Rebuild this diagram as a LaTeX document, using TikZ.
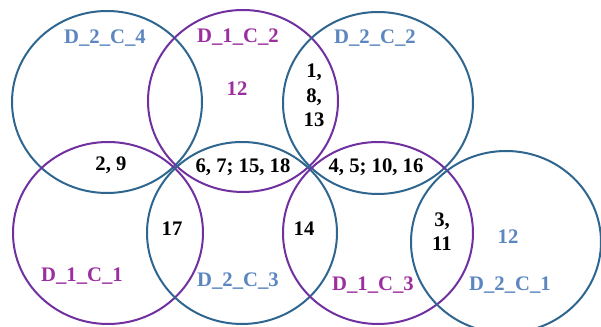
\documentclass[tikz,border=0pt]{standalone}
\usepackage{fontspec}
\setmainfont{Liberation Serif}
\definecolor{cblue}{HTML}{2F6690}
\definecolor{cpurple}{HTML}{7030A0}
\definecolor{lblue}{HTML}{5B86C0}
\definecolor{lpurple}{HTML}{9B2FA0}
\begin{document}
\begin{tikzpicture}[x=0.75pt,y=-0.75pt,
  bluecirc/.style={draw=cblue,line width=1.5pt},
  purpcirc/.style={draw=cpurple,line width=1.5pt},
  lab/.style={font=\fontsize{15.5}{17}\selectfont\bfseries,inner sep=0pt},
  bluelab/.style={lab,text=lblue},
  purplab/.style={lab,text=lpurple},
  num/.style={lab,text=black,align=center}]
\useasboundingbox (0,0) rectangle (601,327);
% circles
\draw[bluecirc] (107,102) ellipse [x radius=95, y radius=91];
\draw[purpcirc] (243,101) ellipse [x radius=95, y radius=91];
\draw[bluecirc] (378,103) ellipse [x radius=95, y radius=91];
\draw[purpcirc] (108,233) ellipse [x radius=95, y radius=91];
\draw[bluecirc] (242,233) ellipse [x radius=95, y radius=91];
\draw[purpcirc] (378,233) ellipse [x radius=95, y radius=91];
\draw[bluecirc] (506,242) ellipse [x radius=95, y radius=91];
% labels
\node[bluelab] (l24) at (105,38) {D\_2\_C\_4};
\node[purplab] (l12) at (238,37) {D\_1\_C\_2};
\node[bluelab] (l22) at (375,38) {D\_2\_C\_2};
\node[purplab] (l11) at (82,276) {D\_1\_C\_1};
\node[bluelab] (l23) at (238,281) {D\_2\_C\_3};
\node[purplab] (l13) at (373,285) {D\_1\_C\_3};
\node[bluelab] (l21) at (510,285) {D\_2\_C\_1};
% numbers
\node[purplab] (n12a) at (237,89) {12};
\node[bluelab] (n12b) at (508,237) {12};
\node[num] (n1813) at (314,95) {1,\\[2pt]8,\\[1pt]13};
\node[num] (n29) at (111,165) {2, 9};
\node[num] (n67) at (243,167) {6, 7; 15, 18};
\node[num] (n45) at (376,167) {4, 5; 10, 16};
\node[num] (n17) at (172,229) {17};
\node[num] (n14) at (304,229) {14};
\node[num] (n311) at (442,232) {3,\\[1pt]11};
\end{tikzpicture}
\end{document}
